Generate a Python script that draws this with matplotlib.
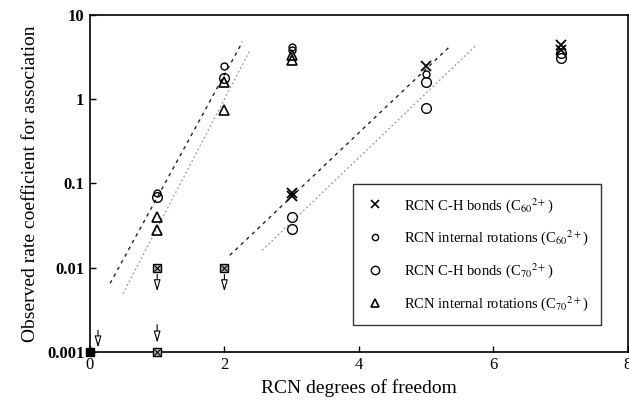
import matplotlib
matplotlib.use("Agg")
import matplotlib.pyplot as plt
from matplotlib.lines import Line2D

plt.rcParams['font.family'] = ['Liberation Serif', 'DejaVu Serif']
plt.rcParams['mathtext.fontset'] = 'stix'

# ---- data ----
c60_ch_x = [3, 3, 5, 7, 7]
c60_ch_y = [0.076, 0.07, 2.5, 4.4, 3.8]

c60_rot_x = [1, 2, 3, 3, 5]
c60_rot_y = [0.076, 2.5, 4.2, 3.8, 2.0]

c70_ch_x = [1, 2, 3, 3, 5, 5, 7, 7]
c70_ch_y = [0.069, 1.8, 0.04, 0.029, 1.6, 0.78, 3.5, 3.1]

c70_rot_x = [1, 1, 2, 2, 3, 3]
c70_rot_y = [0.04, 0.028, 1.6, 0.75, 3.3, 2.9]

limit_x = [0, 1, 1, 2]
limit_y = [0.001, 0.001, 0.01, 0.01]
limit_filled = [True, False, False, False]

arrow_x = [0.12, 1, 1, 2]
arrow_top = [0.0018, 0.0021, 0.0083, 0.0083]
arrow_bot = [0.00112, 0.00128, 0.0052, 0.0052]

fit_c60_rot_x = [0.3, 2.27]
fit_c60_rot_y = [0.0065, 4.8]
fit_c70_rot_x = [0.49, 2.38]
fit_c70_rot_y = [0.0049, 3.8]
fit_c60_ch_x = [2.08, 5.35]
fit_c60_ch_y = [0.014, 4.2]
fit_c70_ch_x = [2.56, 5.75]
fit_c70_ch_y = [0.016, 4.4]

legend_labels = [r'RCN C-H bonds (C$_{60}$$^{2+}$)',
                 r'RCN internal rotations (C$_{60}$$^{2+}$)',
                 r'RCN C-H bonds (C$_{70}$$^{2+}$)',
                 r'RCN internal rotations (C$_{70}$$^{2+}$)']

xticks = [0, 2, 4, 6, 8]
yticks = [0.001, 0.01, 0.1, 1, 10]
ytick_labels = ['0.001', '0.01', '0.1', '1', '10']

# ---- figure ----
fig = plt.figure(figsize=(6.29, 4.03), dpi=100)
ax = fig.add_axes([0.143, 0.127, 0.855, 0.836])
ax.set_yscale('log')
ax.set_xlim(0, 8)
ax.set_ylim(0.001, 10)

# fit lines
ax.plot(fit_c60_rot_x, fit_c60_rot_y, color='#222222', ls=(0, (2.5, 3)), lw=1.0)
ax.plot(fit_c70_rot_x, fit_c70_rot_y, color='#999999', ls=(0, (1.5, 2)), lw=0.9)
ax.plot(fit_c60_ch_x, fit_c60_ch_y, color='#222222', ls=(0, (2.5, 3)), lw=1.0)
ax.plot(fit_c70_ch_x, fit_c70_ch_y, color='#999999', ls=(0, (1.5, 2)), lw=0.9)

ms_kw = dict(ls='none', color='black', mfc='none', clip_on=False, zorder=5)
ax.plot(c60_ch_x, c60_ch_y, marker='x', ms=6.5, mew=1.3, **ms_kw)
ax.plot(c60_rot_x, c60_rot_y, marker='o', ms=5, mew=1.0, **ms_kw)
ax.plot(c70_ch_x, c70_ch_y, marker='o', ms=7, mew=1.0, **ms_kw)
ax.plot(c70_rot_x, c70_rot_y, marker='^', ms=6.5, mew=1.2, **ms_kw)

for x, y, f in zip(limit_x, limit_y, limit_filled):
    ax.plot([x], [y], marker='s', ms=6, mew=1.0, ls='none', color='black',
            mfc='black' if f else '#bbbbbb', clip_on=False, zorder=6)
    if not f:
        ax.plot([x], [y], marker='x', ms=4, mew=0.8, ls='none', color='black',
                clip_on=False, zorder=7)

for x, t, b in zip(arrow_x, arrow_top, arrow_bot):
    ax.annotate('', xy=(x, b), xytext=(x, t),
                arrowprops=dict(arrowstyle='-|>,head_width=0.2,head_length=0.7',
                                color='black', lw=0.8, fc='white',
                                shrinkA=0, shrinkB=0, mutation_scale=10))

ax.set_xticks(xticks)
ax.set_xticklabels([str(v) for v in xticks], fontsize=12)
ax.set_yticks(yticks)
ax.set_yticklabels(ytick_labels, fontsize=12, fontweight='bold')
ax.minorticks_off()
ax.tick_params(direction='in', length=4, width=1.0, pad=4)
for s in ax.spines.values():
    s.set_linewidth(1.2)

ax.set_xlabel('RCN degrees of freedom', fontsize=14, labelpad=4)
ax.set_ylabel('Observed rate coefficient for association', fontsize=14, labelpad=6)

handles = [
    Line2D([], [], marker='x', ls='none', color='black', ms=6, mew=1.2),
    Line2D([], [], marker='o', ls='none', color='black', mfc='none', ms=4.5, mew=1.0),
    Line2D([], [], marker='o', ls='none', color='black', mfc='none', ms=6, mew=1.0),
    Line2D([], [], marker='^', ls='none', color='black', mfc='none', ms=6, mew=1.2),
]
leg = ax.legend(handles, legend_labels, loc='lower right', bbox_to_anchor=(0.963, 0.059),
                fontsize=10.5, frameon=True, fancybox=False, edgecolor='black',
                handletextpad=1.2, labelspacing=0.95, borderpad=0.8, handlelength=1.5)
leg.get_frame().set_linewidth(1.0)

fig.savefig('out.png', dpi=100)
